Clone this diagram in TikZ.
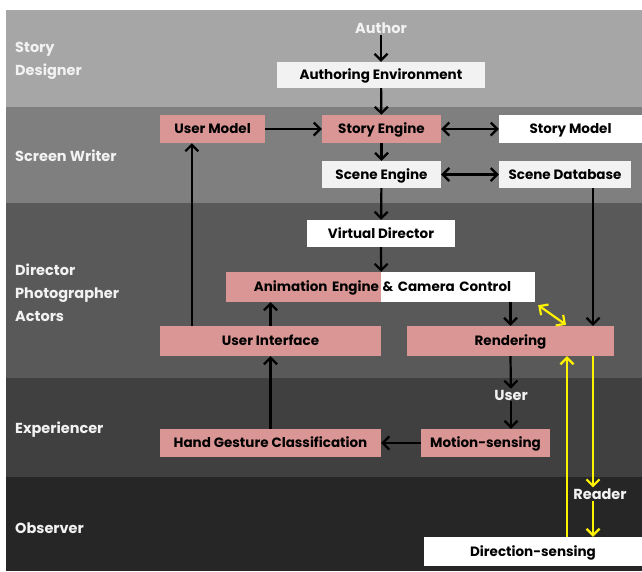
\documentclass[tikz,border=0pt]{standalone}
\usepackage{fontspec}
\setmainfont{Poppins}
\usetikzlibrary{arrows.meta}
\definecolor{bandA}{RGB}{166,166,166}
\definecolor{bandB}{RGB}{127,127,127}
\definecolor{bandC}{RGB}{89,89,89}
\definecolor{bandD}{RGB}{64,64,64}
\definecolor{bandE}{RGB}{38,38,38}
\definecolor{pinkc}{RGB}{217,150,148}
\definecolor{offw}{RGB}{242,242,242}
\definecolor{labc}{RGB}{242,242,242}
\tikzset{
  box/.style={draw=none, inner sep=0pt, text height=12pt, text depth=2.5pt, font=\bfseries\fontsize{13.5}{14}\selectfont, text=black},
  pinkbox/.style={box, fill=pinkc},
  whitebox/.style={box, fill=white},
  offbox/.style={box, fill=offw},
  bandlabel/.style={anchor=west, align=left, text=labc, font=\bfseries\fontsize{14.5}{23}\selectfont, inner sep=0pt},
  toplabel/.style={text=labc, font=\bfseries\fontsize{14.5}{16}\selectfont, inner sep=1pt},
  tip/.tip={Straight Barb[length=6.5pt,width=13pt,line width=2.2pt]},
  arr/.style={line width=2.2pt, -tip},
  darr/.style={line width=2.2pt, tip-tip},
  yarr/.style={arr, draw=yellow},
  ydarr/.style={darr, draw=yellow},
}
\begin{document}
\begin{tikzpicture}[x=1pt,y=-1pt]
\useasboundingbox (0,0) rectangle (642,571);
\fill[white] (0,0) rectangle (642,571);
% bands
\fill[bandA] (6,10) rectangle (642,107);
\fill[bandB] (6,107) rectangle (642,203);
\fill[bandC] (6,203) rectangle (642,378);
\fill[bandD] (6,378) rectangle (642,477);
\fill[bandE] (6,477) rectangle (642,571);
% band labels
\node[bandlabel] (l1) at (15,60.5) {Story\\Designer};
\node[bandlabel] (l2) at (15,156) {Screen Writer};
\node[bandlabel] (l3) at (15,292.5) {Director\\Photographer\\Actors};
\node[bandlabel] (l4) at (15,430) {Experiencer};
\node[bandlabel] (l5) at (15,528) {Observer};
% nodes
\node[toplabel] (author) at (381,28) {Author};
\node[offbox, minimum width=208pt, minimum height=26pt] (ae) at (381,75) {Authoring Environment};
\node[pinkbox, minimum width=105pt, minimum height=28pt] (um) at (212.5,129) {User Model};
\node[pinkbox, minimum width=119pt, minimum height=28pt] (se) at (381.5,129) {Story Engine};
\node[whitebox, minimum width=143pt, minimum height=28pt] (sm) at (570.5,129) {Story Model};
\node[offbox, minimum width=119pt, minimum height=27pt] (sce) at (381.5,174.5) {Scene Engine};
\node[offbox, minimum width=132pt, minimum height=27pt] (sdb) at (565,174.5) {Scene Database};
\node[whitebox, minimum width=148pt, minimum height=27pt] (vd) at (381,233.5) {Virtual Director};
\node[pinkbox, minimum width=155pt, minimum height=30pt, text width=151pt, align=right] (an) at (303.5,287) {Animation Engine};
\node[whitebox, minimum width=154pt, minimum height=30pt, text width=151pt, align=left] (cc) at (458,287) {\& Camera Control};
\node[pinkbox, minimum width=221pt, minimum height=30pt] (ui) at (270.5,341) {User Interface};
\node[pinkbox, minimum width=207pt, minimum height=30pt] (rd) at (510.5,341) {Rendering};
\node[toplabel] (user) at (511,395) {User};
\node[pinkbox, minimum width=221pt, minimum height=28pt] (hg) at (270.5,443) {Hand Gesture Classification};
\node[pinkbox, minimum width=129pt, minimum height=28pt] (ms) at (485.5,443) {Motion-sensing};
\node[toplabel] (reader) at (600,494) {Reader};
\node[whitebox, minimum width=218pt, minimum height=29pt] (ds) at (533,551.5) {Direction-sensing};
% connectors
\draw[arr] (author) -- (ae);
\draw[arr] (ae) -- (se);
\draw[arr] (um) -- (se);
\draw[darr] (se) -- (sm);
\draw[arr] (se) -- (sce);
\draw[darr] (sce) -- (sdb);
\draw[arr] (sce) -- (vd);
\draw[arr] (vd.south) -- (an.north east);
\draw[arr] ([xshift=28pt]sdb.south) -- ([xshift=28pt]sdb.south |- rd.north);
\draw[arr] (cc.south -| rd.north) -- (rd.north);
\draw[ydarr] ([shift={(3pt,-3pt)}]cc.south east) -- ([shift={(55.5pt,1pt)}]rd.north);
\draw[arr] ([xshift=32pt]ui.north west) -- ([xshift=32pt]ui.north west |- um.south);
\draw[arr] (ui.north) -- (ui.north |- an.south);
\draw[arr] (hg) -- (ui);
\draw[arr] (rd.south) -- (user);
\draw[arr] (user) -- (user |- ms.north);
\draw[arr] (ms) -- (hg);
\draw[yarr] ([xshift=82.5pt]rd.south) -- ([xshift=82.5pt]rd.south |- reader.north);
\draw[yarr] ([xshift=82.5pt]rd.south |- reader.south) -- ([xshift=82.5pt]rd.south |- ds.north);
\draw[yarr] ([xshift=56.5pt]rd.south |- ds.north) -- ([xshift=56.5pt]rd.south);
\end{tikzpicture}
\end{document}
